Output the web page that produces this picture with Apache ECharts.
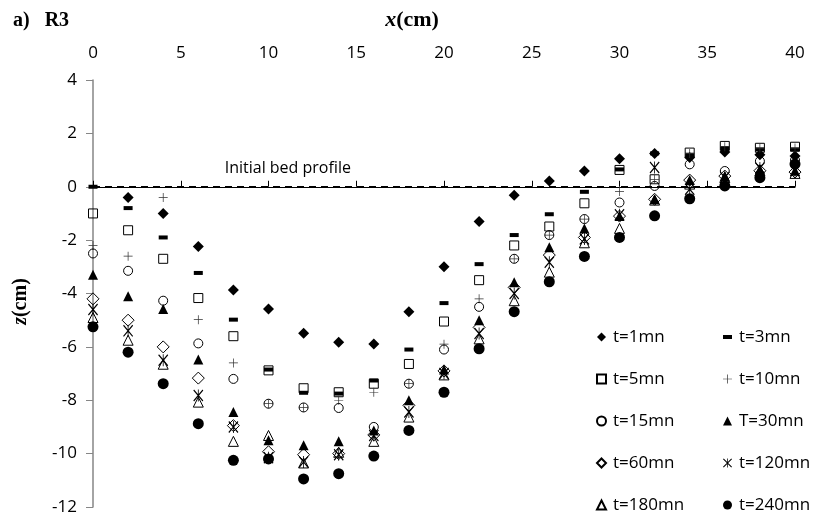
<!DOCTYPE html>
<html>
<head>
<meta charset="utf-8">
<script src="https://cdn.jsdelivr.net/npm/echarts@6/dist/echarts.min.js"></script>
<style>
  html, body { margin: 0; padding: 0; background: #fff; }
  #chart { width: 821px; height: 520px; }
</style>
</head>
<body>
<div id="chart"></div>
<script>
// Measurement positions along the flume (cm)
const xPositions = [0, 2, 4, 6, 8, 10, 12, 14, 16, 18, 20, 22, 24, 26, 28, 30, 32, 34, 36, 38, 40];

// Bed elevation z (cm) at each position, one array per elapsed time
const z_t1   = [null, -0.4, -1.0, -2.24, -3.87, -4.58, -5.49, -5.83, -5.89, -4.68, -3.0, -1.3, -0.32, 0.22, 0.59, 1.05, 1.25, 1.1, 1.3, 1.2, 1.15];
const z_t3   = [0, -0.8, -1.9, -3.23, -4.98, -6.85, -7.72, -7.75, -7.26, -6.1, -4.36, -2.9, -1.81, -1.03, -0.19, 0.65, 1.25, 1.2, 1.45, 1.4, 1.4];
const z_t5   = [-1.0, -1.63, -2.7, -4.17, -5.6, -6.88, -7.55, -7.7, -7.38, -6.64, -5.05, -3.5, -2.2, -1.49, -0.62, 0.63, 0.28, 1.28, 1.53, 1.46, 1.5];
const z_t10  = [-2.2, -2.6, -0.4, -4.98, -6.6, -8.13, -8.27, -8.0, -7.7, -7.38, -5.9, -4.2, -2.7, -1.81, -1.21, -0.18, 0.28, 1.25, 1.5, 1.45, 1.45];
const z_t15  = [-2.5, -3.15, -4.27, -5.87, -7.2, -8.13, -8.27, -8.29, -9.0, -7.38, -6.1, -4.5, -2.7, -1.81, -1.21, -0.59, 0.03, 0.84, 0.59, 0.96, 1.0];
const z_t30  = [-3.3, -4.1, -4.58, -6.47, -8.44, -9.5, -9.69, -9.54, -9.13, -8.0, -6.85, -5.0, -3.58, -2.27, -1.56, -1.1, -0.47, 0.25, 0.4, 0.65, 0.6];
const z_t60  = [-4.2, -5.0, -6.0, -7.17, -8.95, -9.93, -10.04, -10.0, -9.3, -8.19, -6.9, -5.27, -3.77, -2.56, -1.9, -1.1, -0.47, 0.25, 0.4, 0.6, 0.55];
const z_t120 = [-4.6, -5.4, -6.5, -7.82, -9.0, -10.15, -10.31, -10.04, -9.32, -8.44, -7.0, -5.5, -4.0, -2.83, -1.96, -1.05, 0.72, -0.09, 0.35, 0.7, 0.6];
const z_t180 = [-4.9, -5.75, -6.65, -8.07, -9.54, -9.32, -10.35, -9.95, -9.54, -8.63, -7.05, -5.7, -4.27, -3.2, -2.1, -1.56, -0.5, 0.1, 0.35, 0.6, 0.5];
const z_t240 = [-5.25, -6.2, -7.38, -8.88, -10.25, -10.2, -10.95, -10.75, -10.09, -9.13, -7.7, -6.07, -4.68, -3.56, -2.61, -1.9, -1.09, -0.45, 0.03, 0.34, 0.85];

// Initial flat bed
const bedX = [0, 40];
const bedZ = [0, 0];

// Axis ticks
const xTicks = { min: 0, max: 40, step: 5 };
const zTicks = { min: -12, max: 4, step: 2 };

const seriesNames = ['t=1mn', 't=3mn', 't=5mn', 't=10mn', 't=15mn', 'T=30mn', 't=60mn', 't=120mn', 't=180mn', 't=240mn'];
const seriesValues = [z_t1, z_t3, z_t5, z_t10, z_t15, z_t30, z_t60, z_t120, z_t180, z_t240];

const INK = '#000';
const HOLLOW = 'rgba(0,0,0,0)';
const PLUS = 'path://M4.6,0H5.4V10H4.6Z M0,4.6H10V5.4H0Z';
const STAR = 'path://M0,0.8L0.8,0L10,9.2L9.2,10Z M9.2,0L10,0.8L0.8,10L0,9.2Z M4.6,0H5.4V10H4.6Z';
const DASH = 'path://M0,0H9V4H0Z';

// Marker appearance for each time step
const markerStyles = [
  { symbol: 'diamond',  size: 11,      fill: INK },
  { symbol: 'rect',     size: [9, 4],  fill: INK },
  { symbol: 'rect',     size: 9,       fill: HOLLOW, border: 1 },
  { symbol: PLUS,       size: 9,       fill: '#333' },
  { symbol: 'circle',   size: 9,       fill: HOLLOW, border: 1 },
  { symbol: 'triangle', size: 10,      fill: INK },
  { symbol: 'diamond',  size: 12,      fill: HOLLOW, border: 1 },
  { symbol: STAR,       size: [10, 12], fill: INK },
  { symbol: 'triangle', size: 10,      fill: HOLLOW, border: 1 },
  { symbol: 'circle',   size: 11,      fill: INK }
];

const scatterSeries = seriesNames.map((name, k) => {
  const st = markerStyles[k];
  const data = [];
  xPositions.forEach((x, i) => {
    const v = seriesValues[k][i];
    if (v !== null) data.push([x, v]);
  });
  return {
    name: name,
    type: 'scatter',
    symbol: st.symbol,
    symbolSize: st.size,
    silent: true,
    itemStyle: {
      color: st.fill,
      borderColor: INK,
      borderWidth: st.border || 0,
      opacity: 1
    },
    emphasis: { disabled: true },
    data: data,
    z: 3 + k
  };
});

const bedSeries = {
  name: 'Initial bed profile',
  type: 'line',
  silent: true,
  symbol: 'none',
  lineStyle: { color: INK, width: 1.5, type: [7, 5] },
  data: bedX.map((x, i) => [x, bedZ[i]]),
  markPoint: {
    silent: true,
    symbol: 'rect',
    symbolSize: 0,
    data: [{ coord: [11.1, 0] }],
    label: {
      show: true,
      position: 'top',
      distance: 10,
      formatter: 'Initial bed profile',
      color: INK,
      fontFamily: 'Open Sans',
      fontSize: 16
    }
  },
  z: 2
};

const legendText = { color: INK, fontFamily: 'Open Sans', fontSize: 17, lineHeight: 20, padding: [0, 0, 0, 2] };
const legendIcon = (name) => (name === 't=3mn' ? { name: name, icon: DASH } : { name: name });
const legendBase = {
  orient: 'vertical',
  top: 327,
  height: 200,
  padding: 0,
  itemWidth: 9,
  itemHeight: 9,
  itemGap: 22,
  selectedMode: false,
  textStyle: legendText
};

const chart = echarts.init(document.getElementById('chart'), null, { renderer: 'canvas' });
chart.setOption({
  animation: false,
  backgroundColor: '#fff',
  title: {
    text: 'a)   R3',
    left: 8,
    top: 6,
    textStyle: { fontFamily: 'Liberation Serif', fontWeight: 'bold', fontSize: 20, color: INK }
  },
  grid: { left: 93, right: 26, top: 80, bottom: 13 },
  legend: [
    Object.assign({}, legendBase, {
      left: 596,
      data: ['t=1mn', 't=5mn', 't=15mn', 't=60mn', 't=180mn'].map(legendIcon)
    }),
    Object.assign({}, legendBase, {
      left: 723,
      data: ['t=3mn', 't=10mn', 'T=30mn', 't=120mn', 't=240mn'].map(legendIcon)
    })
  ],
  xAxis: {
    type: 'value',
    position: 'top',
    min: xTicks.min,
    max: xTicks.max,
    interval: xTicks.step,
    name: '{i|x}(cm)',
    nameLocation: 'middle',
    nameGap: 49,
    nameTextStyle: {
      fontFamily: 'Liberation Serif',
      fontWeight: 'bold',
      fontSize: 22,
      color: INK,
      padding: [0, 64, 0, 0],
      rich: {
        i: { fontFamily: 'Liberation Serif', fontWeight: 'bold', fontStyle: 'italic', fontSize: 22, color: INK }
      }
    },
    axisLine: { show: true, lineStyle: { color: INK, width: 1 } },
    axisTick: { show: true, inside: false, length: 6, lineStyle: { color: INK } },
    axisLabel: { color: INK, fontFamily: 'Open Sans', fontSize: 17, margin: 18 },
    splitLine: { show: false }
  },
  yAxis: {
    type: 'value',
    min: zTicks.min,
    max: zTicks.max,
    interval: zTicks.step,
    name: '{i|z}(cm)',
    nameLocation: 'middle',
    nameGap: 62,
    nameRotate: 90,
    nameTextStyle: {
      fontFamily: 'Liberation Serif',
      fontWeight: 'bold',
      fontSize: 20,
      color: INK,
      padding: [0, 16, 0, 0],
      rich: {
        i: { fontFamily: 'Liberation Serif', fontWeight: 'bold', fontStyle: 'italic', fontSize: 20, color: INK }
      }
    },
    axisLine: { show: true, onZero: false, lineStyle: { color: '#868686', width: 1.5 } },
    axisTick: { show: true, inside: false, length: 7, lineStyle: { color: '#868686' } },
    axisLabel: { color: INK, fontFamily: 'Open Sans', fontSize: 17, margin: 16 },
    splitLine: { show: false }
  },
  series: [bedSeries].concat(scatterSeries)
});
</script>
</body>
</html>
